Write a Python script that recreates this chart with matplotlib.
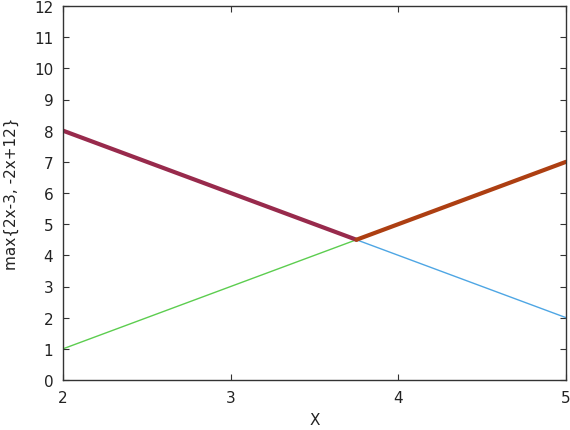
import matplotlib
matplotlib.use("Agg")
import matplotlib.pyplot as plt

x_vals = [2, 5]
line1_y = [1, 7]      # 2x-3
line2_y = [8, 2]      # -2x+12
max_left_x = [2, 3.75]
max_left_y = [8, 4.5]
max_right_x = [3.75, 5]
max_right_y = [4.5, 7]
xticks = [2, 3, 4, 5]
yticks = list(range(0, 13))

fig = plt.figure(figsize=(5.7, 4.31), dpi=100)
ax = fig.add_axes([63/570, 50/431, 503/570, 374/431])

ax.plot(x_vals, line1_y, color="#5ccd4f", lw=1.0)
ax.plot(x_vals, line2_y, color="#4ea6e4", lw=1.0)
ax.plot(max_left_x, max_left_y, color="#982a4c", lw=3.0, solid_capstyle="round")
ax.plot(max_right_x, max_right_y, color="#ad3f12", lw=3.0, solid_capstyle="round")

ax.set_xlim(2, 5)
ax.set_ylim(0, 12)
ax.set_xticks(xticks)
ax.set_yticks(yticks)
ax.tick_params(direction="in", top=True, right=True, length=4, width=0.8,
               labelsize=11, colors="#333333", pad=7)
ax.tick_params(labelcolor="#222222")
for s in ax.spines.values():
    s.set_color("#333333")
    s.set_linewidth(1.0)

ax.set_xlabel("X", fontsize=11, color="#222222", labelpad=5)
ax.set_ylabel("max{2x-3, -2x+12}", fontsize=11, color="#222222", labelpad=11)

fig.savefig("out.png", dpi=100)
